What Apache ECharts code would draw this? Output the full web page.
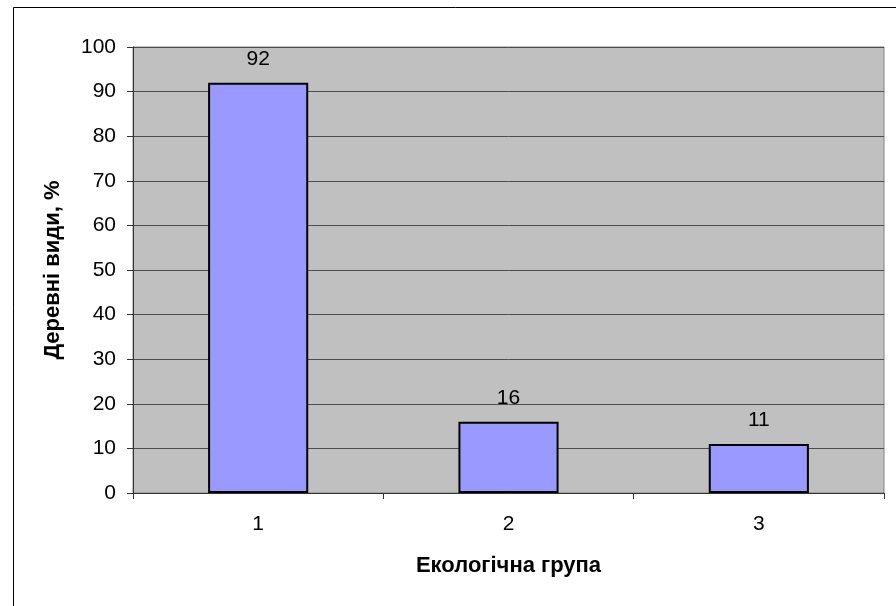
<!DOCTYPE html>
<html>
<head>
<meta charset="utf-8">
<script src="https://cdn.jsdelivr.net/npm/echarts@6/dist/echarts.min.js"></script>
<style>html,body{margin:0;padding:0;background:#fff}#c{width:896px;height:606px}</style>
</head>
<body>
<div id="c"></div>
<script>
var categories = ['1', '2', '3'];
var values = [92, 16, 11];
var yTicks = [0, 10, 20, 30, 40, 50, 60, 70, 80, 90, 100];
var xTitle = 'Екологічна група';
var yTitle = 'Деревні види, %';

var chart = echarts.init(document.getElementById('c'), null, {renderer: 'canvas'});
var font = 'Liberation Sans, Arial, sans-serif';
chart.setOption({
  animation: false,
  backgroundColor: '#fff',
  textStyle: {fontFamily: font},
  graphic: [{
    type: 'rect', silent: true,
    shape: {x: 13.5, y: 7.5, width: 2000, height: 2000},
    style: {fill: 'none', stroke: '#000', lineWidth: 1}
  }],
  grid: {
    left: 133, top: 47, right: 12, bottom: 113,
    show: true, backgroundColor: '#C0C0C0', borderColor: '#808080', borderWidth: 1
  },
  xAxis: {
    type: 'category',
    data: categories,
    name: xTitle,
    nameLocation: 'middle',
    nameGap: 62,
    nameTextStyle: {fontFamily: font, fontSize: 22, fontWeight: 'bold', color: '#000'},
    axisLine: {show: true, lineStyle: {color: '#333', width: 1}},
    axisTick: {show: true, length: 6, lineStyle: {color: '#333'}},
    axisLabel: {fontFamily: font, fontSize: 21, color: '#000', margin: 21}
  },
  yAxis: {
    type: 'value',
    min: yTicks[0],
    max: yTicks[yTicks.length - 1],
    interval: 10,
    name: yTitle,
    nameLocation: 'middle',
    nameGap: 69,
    nameTextStyle: {fontFamily: font, fontSize: 22, fontWeight: 'bold', color: '#000'},
    axisLine: {show: true, lineStyle: {color: '#333', width: 1}},
    axisTick: {show: true, length: 6, lineStyle: {color: '#333'}},
    axisLabel: {fontFamily: font, fontSize: 21, color: '#000', margin: 17},
    splitLine: {show: true, lineStyle: {color: '#4d4d4d', width: 1}}
  },
  series: [{
    type: 'bar',
    data: values,
    barWidth: '40%',
    itemStyle: {color: '#9999FF', borderColor: '#000', borderWidth: 2},
    label: {show: true, position: 'top', distance: 13, fontFamily: font, fontSize: 21, color: '#000'}
  }]
});
</script>
</body>
</html>
